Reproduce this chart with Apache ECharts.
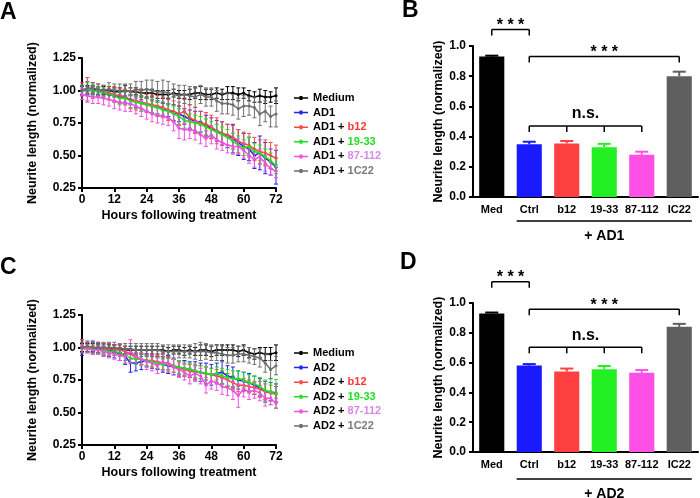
<!DOCTYPE html>
<html><head><meta charset="utf-8">
<script src="https://cdn.jsdelivr.net/npm/echarts@6/dist/echarts.min.js"></script>
<style>html,body{margin:0;padding:0;background:#fff}#c{width:700px;height:498px}</style>
</head><body><div id="c"></div>
<script>
// ---------- DATA ----------
const hours = [0,2,4,6,8,10,12,14,16,18,20,22,24,26,28,30,32,34,36,38,40,42,44,46,48,50,52,54,56,58,60,62,64,66,68,70,72];

// Panel A (AD1)
const medA    = [1.00,1.01,1.01,1.00,1.00,1.00,0.99,0.99,1.00,0.99,0.99,0.98,0.98,0.98,0.97,0.97,0.97,0.98,0.97,0.97,0.97,0.98,0.98,0.97,0.97,0.98,0.97,0.98,0.98,0.97,0.98,0.96,0.95,0.96,0.95,0.95,0.96];
const medAErr = [.03,.03,.03,.03,.03,.03,.03,.03,.04,.03,.03,.03,.03,.03,.03,.03,.03,.03,.03,.03,.04,.04,.05,.04,.04,.04,.04,.05,.05,.05,.04,.04,.04,.05,.05,.04,.06];
const ad1     = [1.00,1.00,1.00,0.99,0.98,0.97,0.96,0.95,0.95,0.93,0.92,0.91,0.89,0.88,0.87,0.86,0.85,0.83,0.82,0.80,0.78,0.76,0.76,0.73,0.71,0.69,0.67,0.65,0.63,0.60,0.57,0.55,0.50,0.52,0.48,0.45,0.41];
const ad1Err  = [.03,.03,.03,.03,.03,.04,.04,.04,.04,.04,.05,.05,.05,.05,.05,.05,.05,.06,.06,.06,.07,.08,.08,.08,.08,.08,.09,.09,.11,.10,.10,.09,.10,.13,.12,.10,.13];
const ad1b12  = [1.01,1.01,1.00,1.00,0.99,0.98,0.97,0.96,0.95,0.93,0.92,0.91,0.90,0.89,0.88,0.87,0.85,0.84,0.82,0.84,0.79,0.77,0.75,0.74,0.72,0.69,0.67,0.66,0.64,0.61,0.59,0.58,0.55,0.53,0.52,0.50,0.48];
const ad1b12Err = [.05,.09,.06,.05,.05,.05,.06,.06,.06,.07,.07,.07,.07,.07,.08,.08,.08,.08,.09,.09,.10,.10,.09,.09,.09,.10,.09,.08,.09,.09,.09,.09,.09,.09,.10,.10,.10];
const ad1g19  = [1.00,1.01,1.00,0.99,0.98,0.97,0.96,0.94,0.94,0.92,0.91,0.90,0.89,0.88,0.87,0.85,0.84,0.82,0.80,0.77,0.76,0.75,0.74,0.72,0.70,0.68,0.66,0.64,0.61,0.58,0.56,0.57,0.53,0.52,0.49,0.46,0.42];
const ad1g19Err = [.04,.05,.04,.04,.04,.04,.05,.05,.05,.05,.05,.06,.05,.05,.05,.05,.06,.06,.06,.06,.06,.06,.06,.06,.06,.06,.06,.06,.06,.07,.06,.07,.06,.06,.06,.06,.06];
const ad1m87  = [0.97,0.96,0.95,0.95,0.94,0.93,0.92,0.91,0.90,0.90,0.88,0.86,0.84,0.82,0.81,0.80,0.79,0.76,0.71,0.70,0.70,0.69,0.66,0.63,0.66,0.62,0.60,0.58,0.57,0.57,0.54,0.50,0.47,0.49,0.44,0.40,0.38];
const ad1m87Err = [.04,.05,.05,.05,.05,.05,.06,.06,.06,.06,.06,.06,.06,.06,.06,.06,.06,.07,.08,.08,.07,.07,.07,.06,.07,.07,.06,.06,.06,.06,.06,.06,.06,.06,.06,.05,.05];
const ad1c22  = [1.00,1.02,1.02,1.01,1.00,1.01,1.00,1.00,1.00,0.99,1.01,1.00,1.01,1.00,0.99,0.99,0.98,0.97,0.96,0.97,0.96,0.95,0.97,0.95,0.95,0.92,0.90,0.90,0.89,0.86,0.88,0.88,0.87,0.82,0.84,0.80,0.82];
const ad1c22Err = [.04,.05,.04,.04,.04,.05,.05,.05,.05,.06,.06,.07,.07,.08,.08,.09,.09,.08,.08,.07,.07,.08,.07,.07,.07,.08,.08,.08,.08,.08,.08,.07,.08,.09,.08,.08,.10];

// Panel C (AD2)
const medC    = [1.00,1.00,1.00,0.99,1.00,0.99,0.99,0.99,0.98,0.98,0.98,0.98,0.98,0.98,0.98,0.98,0.97,0.98,0.98,0.97,0.98,0.97,0.98,0.98,0.97,0.98,0.98,0.98,0.98,0.97,0.98,0.96,0.95,0.96,0.95,0.95,0.96];
const medCErr = [.03,.03,.03,.03,.03,.03,.03,.03,.03,.03,.03,.03,.03,.03,.03,.03,.03,.03,.03,.03,.03,.03,.04,.04,.04,.04,.04,.04,.04,.04,.04,.04,.04,.04,.05,.05,.06];
const ad2     = [1.00,1.00,1.00,0.99,0.98,0.98,0.97,0.95,0.93,0.88,0.88,0.89,0.90,0.89,0.88,0.87,0.86,0.85,0.84,0.84,0.83,0.82,0.81,0.80,0.79,0.80,0.81,0.78,0.77,0.75,0.74,0.73,0.71,0.69,0.66,0.66,0.65];
const ad2Err  = [.06,.04,.05,.04,.04,.05,.05,.05,.06,.07,.06,.06,.05,.05,.05,.06,.06,.06,.06,.06,.06,.07,.07,.08,.08,.08,.09,.08,.08,.07,.07,.07,.07,.07,.08,.07,.07];
const ad2b12  = [1.01,1.00,1.00,1.00,0.99,0.99,0.98,0.98,0.97,0.95,0.92,0.91,0.90,0.90,0.89,0.88,0.88,0.86,0.84,0.83,0.82,0.81,0.81,0.80,0.79,0.78,0.77,0.75,0.73,0.71,0.71,0.70,0.69,0.68,0.66,0.65,0.64];
const ad2b12Err = [.05,.04,.04,.04,.04,.04,.04,.04,.04,.04,.04,.04,.04,.05,.05,.05,.05,.05,.05,.05,.05,.05,.05,.05,.05,.05,.05,.05,.05,.05,.05,.05,.05,.06,.06,.06,.06];
const ad2g19  = [0.99,0.99,0.99,0.98,0.98,0.97,0.97,0.96,0.94,0.92,0.91,0.91,0.90,0.89,0.88,0.87,0.87,0.86,0.85,0.84,0.83,0.82,0.81,0.80,0.79,0.80,0.78,0.77,0.76,0.76,0.75,0.73,0.72,0.70,0.67,0.66,0.645];
const ad2g19Err = [.03,.03,.03,.03,.03,.03,.03,.03,.04,.04,.04,.04,.04,.04,.04,.04,.05,.05,.05,.05,.05,.05,.05,.05,.05,.05,.06,.06,.06,.06,.06,.06,.06,.07,.08,.10,.11];
const ad2m87  = [0.99,0.99,0.98,0.98,0.97,0.96,0.95,0.94,0.93,0.97,0.93,0.91,0.89,0.88,0.86,0.89,0.87,0.85,0.83,0.81,0.78,0.80,0.78,0.71,0.74,0.73,0.70,0.69,0.67,0.63,0.68,0.66,0.67,0.65,0.61,0.61,0.57];
const ad2m87Err = [.03,.03,.03,.03,.04,.04,.04,.04,.05,.09,.05,.05,.06,.06,.06,.07,.06,.06,.06,.06,.06,.06,.06,.06,.06,.06,.06,.06,.07,.09,.06,.06,.06,.06,.06,.05,.04];
const ad2c22  = [1.00,1.01,1.00,1.00,1.00,1.00,1.00,0.99,0.99,0.99,0.98,0.98,0.98,0.98,0.98,0.97,0.97,0.97,0.97,0.97,0.97,0.97,0.97,0.97,0.96,0.96,0.95,0.94,0.94,0.95,0.95,0.94,0.93,0.92,0.88,0.83,0.86];
const ad2c22Err = [.04,.04,.04,.04,.04,.04,.04,.04,.04,.04,.05,.05,.05,.05,.05,.05,.05,.05,.05,.05,.05,.06,.07,.06,.06,.06,.06,.06,.06,.06,.06,.06,.06,.07,.07,.07,.07];

// Bar panels
const barCats = ['Med','Ctrl','b12','19-33','87-112','IC22'];
const barB = [0.93, 0.35, 0.355, 0.33, 0.28, 0.80];
const barBErr = [0.006, 0.016, 0.016, 0.022, 0.02, 0.03];
const barD = [0.93, 0.58, 0.54, 0.555, 0.532, 0.84];
const barDErr = [0.006, 0.01, 0.02, 0.022, 0.018, 0.02];

// Significance annotations: category indices carrying ticks, bracket level, label
const sigB = [{ticks:[0,1], y:1.11, label:'* * *'}, {ticks:[1,5], y:0.93, label:'* * *'}, {ticks:[1,2,3,4], y:0.47, label:'n.s.'}];
const sigD = [{ticks:[0,1], y:1.143, label:'* * *'}, {ticks:[1,5], y:0.958, label:'* * *'}, {ticks:[1,2,3,4], y:0.703, label:'n.s.'}];

// ---------- STYLE ----------
const FONT = '"Liberation Sans", Arial, Helvetica, sans-serif';
const C = {med:'#000000', ad:'#2222ee', b12:'#ff4444', g19:'#22dd22', m87:'#f050e0', c22:'#6e6e6e'};
const barColors = ['#000000', '#1a1aff', '#ff4040', '#22f022', '#ff50e6', '#5f5f5f'];

const groupsA = [
  {name:'Medium', color:C.med, mean:medA, err:medAErr},
  {name:'AD1', color:C.ad, mean:ad1, err:ad1Err},
  {name:'AD1 + b12', color:C.b12, mean:ad1b12, err:ad1b12Err},
  {name:'AD1 + 19-33', color:C.g19, mean:ad1g19, err:ad1g19Err},
  {name:'AD1 + 87-112', color:C.m87, mean:ad1m87, err:ad1m87Err},
  {name:'AD1 + 1C22', color:C.c22, mean:ad1c22, err:ad1c22Err}
];
const groupsC = [
  {name:'Medium', color:C.med, mean:medC, err:medCErr},
  {name:'AD2', color:C.ad, mean:ad2, err:ad2Err},
  {name:'AD2 + b12', color:C.b12, mean:ad2b12, err:ad2b12Err},
  {name:'AD2 + 19-33', color:C.g19, mean:ad2g19, err:ad2g19Err},
  {name:'AD2 + 87-112', color:C.m87, mean:ad2m87, err:ad2m87Err},
  {name:'AD2 + 1C22', color:C.c22, mean:ad2c22, err:ad2c22Err}
];

const axisLineStyle = {color:'#000', width:2};
const lbl = {color:'#000', fontWeight:'bold', fontSize:12, fontFamily:FONT};
const nameStyle = {color:'#000', fontWeight:'bold', fontSize:12.5, fontFamily:FONT};

function lineX(gi){
  return {type:'value', gridIndex:gi, min:0, max:72, interval:12,
    axisLine:{show:true, onZero:false, lineStyle:axisLineStyle},
    axisTick:{show:true, length:4, lineStyle:{color:'#000', width:2}},
    axisLabel:Object.assign({margin:6}, lbl), splitLine:{show:false},
    name:'Hours following treatment', nameLocation:'middle', nameGap:21, nameTextStyle:nameStyle};
}
function lineY(gi){
  return {type:'value', gridIndex:gi, min:0.25, max:1.25, interval:0.25,
    axisLine:{show:true, onZero:false, lineStyle:axisLineStyle},
    axisTick:{show:true, length:4, lineStyle:{color:'#000', width:2}},
    axisLabel:Object.assign({margin:6, formatter:v=>v.toFixed(2)}, lbl), splitLine:{show:false},
    name:'Neurite length (normalized)', nameLocation:'middle', nameGap:43, nameTextStyle:nameStyle};
}
function barX(gi){
  return {type:'category', gridIndex:gi, data:barCats,
    axisLine:{show:true, lineStyle:axisLineStyle}, axisTick:{show:false},
    axisLabel:Object.assign({}, lbl, {fontSize:11, margin:7, interval:0}), splitLine:{show:false}};
}
function barY(gi){
  return {type:'value', gridIndex:gi, min:0, max:1, interval:0.2,
    axisLine:{show:true, lineStyle:axisLineStyle},
    axisTick:{show:true, length:4, lineStyle:{color:'#000', width:2}},
    axisLabel:Object.assign({margin:7, formatter:v=>v.toFixed(1)}, lbl), splitLine:{show:false},
    name:'Neurite length (normalized)', nameLocation:'middle', nameGap:28, nameTextStyle:nameStyle};
}

function errRender(color){
  return function(params, api){
    const x = api.value(0), lo = api.value(1), hi = api.value(2);
    const p1 = api.coord([x, hi]), p2 = api.coord([x, lo]);
    const cw = 2, st = {stroke:color, lineWidth:1};
    return {type:'group', children:[
      {type:'line', shape:{x1:p1[0], y1:p1[1], x2:p2[0], y2:p2[1]}, style:st},
      {type:'line', shape:{x1:p1[0]-cw, y1:p1[1], x2:p1[0]+cw, y2:p1[1]}, style:st},
      {type:'line', shape:{x1:p2[0]-cw, y1:p2[1], x2:p2[0]+cw, y2:p2[1]}, style:st}
    ]};
  };
}

const series = [];
function addLinePanel(groups, gi){
  groups.forEach((g, k) => {
    series.push({type:'custom', xAxisIndex:gi, yAxisIndex:gi, z:2+k, silent:true,
      renderItem:errRender(g.color),
      data:hours.map((h,i)=>[h, g.mean[i]-g.err[i], g.mean[i]+g.err[i]])});
    series.push({type:'line', name:g.name, xAxisIndex:gi, yAxisIndex:gi, z:3+k,
      data:hours.map((h,i)=>[h, g.mean[i]]), symbol:'circle', symbolSize:3, showSymbol:true,
      itemStyle:{color:g.color}, lineStyle:{color:g.color, width:1.5}, animation:false});
  });
}
function addBarPanel(vals, errs, sig, gi, groupLabel, groupOffset){
  series.push({type:'bar', xAxisIndex:gi, yAxisIndex:gi, barWidth:'67%',
    data:vals.map((v,i)=>({value:v, itemStyle:{color:barColors[i]}})), animation:false});
  series.push({type:'custom', xAxisIndex:gi, yAxisIndex:gi, z:3, silent:true,
    data:vals.map((v,i)=>[i, v, v+errs[i]]),
    renderItem:function(params, api){
      const i = api.value(0);
      const p1 = api.coord([i, api.value(2)]), p2 = api.coord([i, api.value(1)]);
      const col = barColors[params.dataIndex];
      return {type:'group', children:[
        {type:'line', shape:{x1:p1[0], y1:p1[1], x2:p2[0], y2:p2[1]}, style:{stroke:col, lineWidth:2}},
        {type:'line', shape:{x1:p1[0]-6.5, y1:p1[1], x2:p1[0]+6.5, y2:p1[1]}, style:{stroke:col, lineWidth:2}}
      ]};
    }});
  series.push({type:'custom', xAxisIndex:gi, yAxisIndex:gi, z:4, silent:true, clip:false,
    data:sig.map(s=>[s.ticks[0], s.y]),
    renderItem:function(params, api){
      const s = sig[params.dataIndex];
      const y = api.coord([0, s.y])[1];
      const xs = s.ticks.map(t=>api.coord([t, 0])[0]);
      const st = {stroke:'#000', lineWidth:1.5};
      const ch = [{type:'line', shape:{x1:xs[0], y1:y, x2:xs[xs.length-1], y2:y}, style:st}];
      xs.forEach(x=>ch.push({type:'line', shape:{x1:x, y1:y, x2:x, y2:y+6}, style:st}));
      const ns = s.label === 'n.s.';
      ch.push({type:'text', style:{text:s.label, x:(xs[0]+xs[xs.length-1])/2, y: ns ? y-12 : y-4,
        fill:'#000', font: ns ? 'bold 16px '+FONT : 'bold 16px '+FONT, align:'center', verticalAlign:'middle'}});
      return {type:'group', children:ch};
    }});
  series.push({type:'custom', xAxisIndex:gi, yAxisIndex:gi, z:4, silent:true, clip:false,
    data:[[1, 5, 0]],
    renderItem:function(params, api){
      const bw = api.size([1, 0])[0] * 0.335;
      const a = api.coord([api.value(0), api.value(2)]), b = api.coord([api.value(1), api.value(2)]);
      const y = a[1] + groupOffset;
      return {type:'group', children:[
        {type:'line', shape:{x1:a[0]-bw, y1:y, x2:b[0]+bw, y2:y}, style:{stroke:'#000', lineWidth:1.5}},
        {type:'text', style:{text:groupLabel, x:(a[0]-bw+b[0]+bw)/2, y:y+15, fill:'#000',
          font:'bold 14px '+FONT, align:'center', verticalAlign:'middle'}}
      ]};
    }});
}

addLinePanel(groupsA, 0);
addBarPanel(barB, barBErr, sigB, 1, '+ AD1', 24);
addLinePanel(groupsC, 2);
addBarPanel(barD, barDErr, sigD, 3, '+ AD2', 27);

const richKey = {'b12':'r', '19-33':'g', '87-112':'p', '1C22':'k'};
const richBase = {fontWeight:'bold', fontSize:11, fontFamily:FONT};
const legendIcon = 'path://M0,1.25 L14,1.25 L14,2.75 L0,2.75 Z M5.5,0 L8.5,0 L8.5,4 L5.5,4 Z';
function legendFor(groups, top){
  return {orient:'vertical', left:289, top:top, itemWidth:14, itemHeight:4, itemGap:2.6,
    icon:legendIcon,
    data:groups.map(g=>g.name), selectedMode:false,
    formatter:function(name){
      const m = name.match(/^(AD\d \+ )(.*)$/);
      if (!m) return name;
      return m[1] + '{' + richKey[m[2]] + '|' + m[2] + '}';
    },
    textStyle:{color:'#000', fontWeight:'bold', fontSize:11, fontFamily:FONT, lineHeight:12,
      rich:{
        r:Object.assign({color:'#ff3535'}, richBase),
        g:Object.assign({color:'#22dd22'}, richBase),
        p:Object.assign({color:'#d98ae8'}, richBase),
        k:Object.assign({color:'#7a7a7a'}, richBase)
      }}};
}

const chart = echarts.init(document.getElementById('c'), null, {renderer:'canvas'});
chart.setOption({
  animation:false,
  backgroundColor:'#fff',
  grid:[
    {left:82, top:58, width:194, height:130},
    {left:473, top:46, width:225, height:151},
    {left:82, top:315, width:194, height:130},
    {left:473, top:303, width:225, height:149}
  ],
  xAxis:[lineX(0), barX(1), lineX(2), barX(3)],
  yAxis:[lineY(0), barY(1), lineY(2), barY(3)],
  legend:[legendFor(groupsA, 87), legendFor(groupsC, 342)],
  series:series,
  graphic:[
    {type:'text', left:0, top:1, style:{text:'A', font:'bold 23px '+FONT, fill:'#000'}},
    {type:'text', left:402, top:-1, style:{text:'B', font:'bold 23px '+FONT, fill:'#000'}},
    {type:'text', left:0, top:256, style:{text:'C', font:'bold 23px '+FONT, fill:'#000'}},
    {type:'text', left:400, top:251, style:{text:'D', font:'bold 23px '+FONT, fill:'#000'}}
  ]
});
</script>
</body></html>
